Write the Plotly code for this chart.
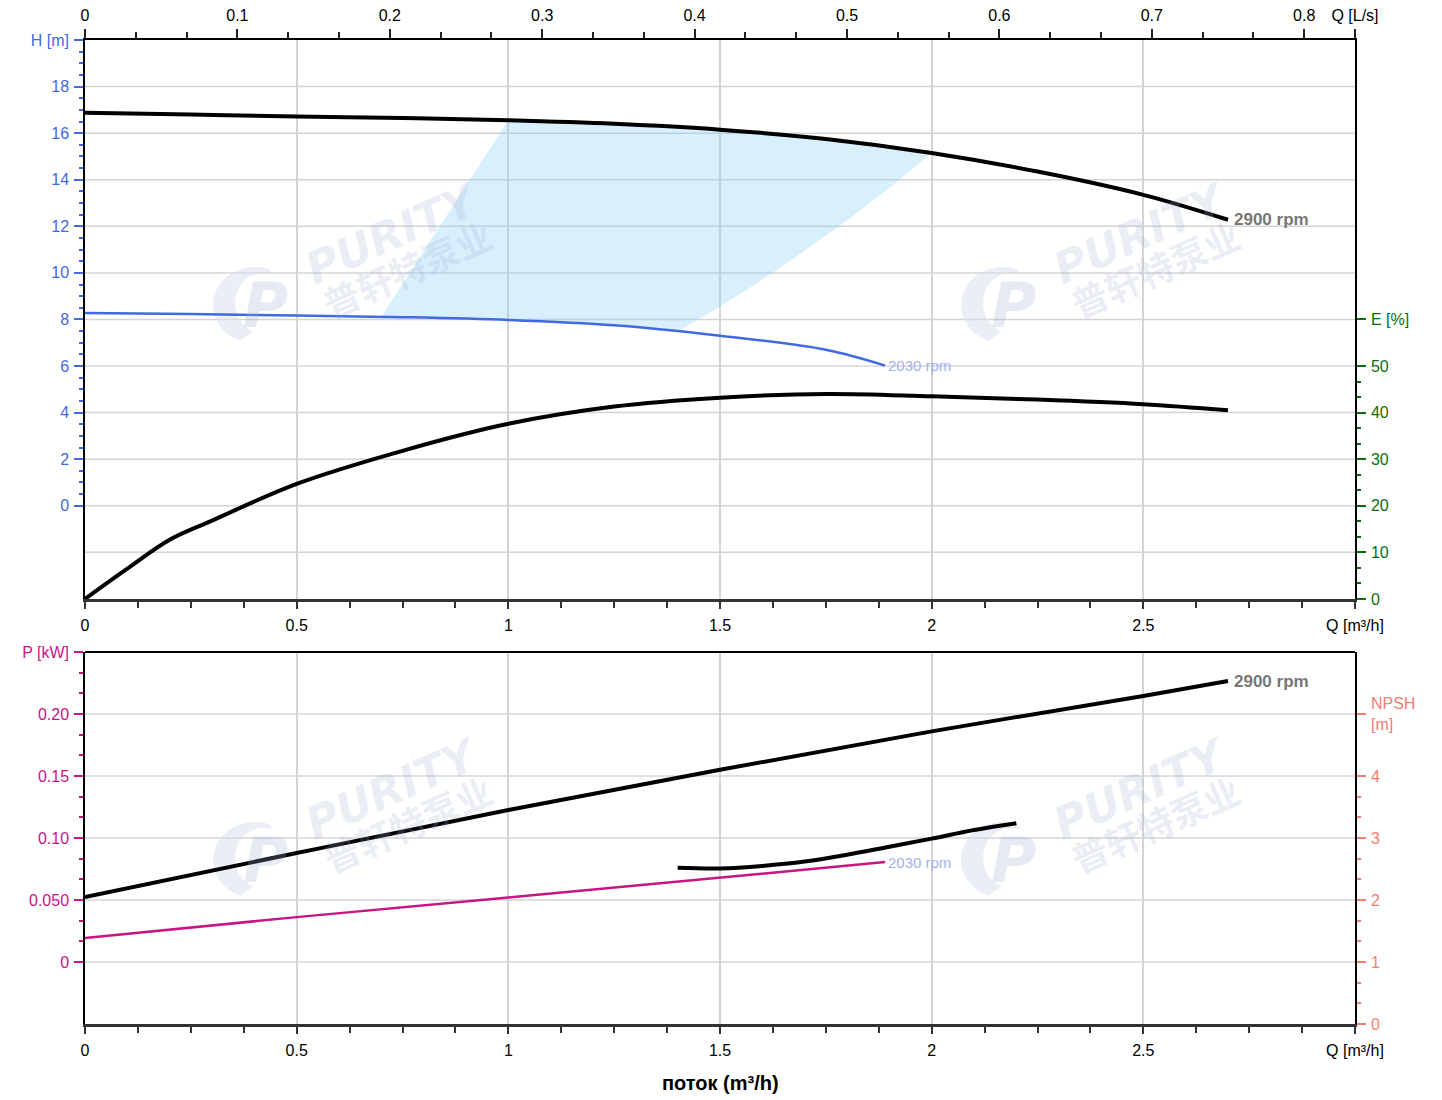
import numpy as np
import plotly.graph_objects as go

# --- data ---
q_h2900 = [0, 0.25, 0.5, 0.75, 1.0, 1.25, 1.5, 1.75, 2.0, 2.25, 2.5, 2.7]
h_2900 = [16.88, 16.8, 16.72, 16.65, 16.55, 16.4, 16.15, 15.75, 15.15, 14.35, 13.35, 12.28]

q_h2030 = [0, 0.25, 0.5, 0.75, 1.0, 1.25, 1.5, 1.75, 1.89]
h_2030 = [8.28, 8.23, 8.17, 8.1, 7.98, 7.75, 7.3, 6.7, 6.02]

q_eff = [0, 0.1, 0.2, 0.3, 0.5, 0.75, 1.0, 1.25, 1.5, 1.75, 2.0, 2.25, 2.5, 2.7]
eff_2900 = [0, 6.5, 12.7, 16.8, 24.7, 31.8, 37.6, 41.3, 43.2, 44.0, 43.5, 42.8, 41.8, 40.5]

# operating region (outline)
region_q = [0.7, 1.0, 1.25, 1.5, 1.75, 2.0, 1.9, 1.8, 1.7, 1.6, 1.5, 1.4, 1.25, 1.0, 0.85, 0.7]
region_h = [8.12, 16.55, 16.4, 16.15, 15.75, 15.15, 13.65, 12.25, 10.95, 9.7, 8.55, 7.48, 7.75, 7.98, 8.05, 8.12]

q_p2900 = [0, 0.5, 1.0, 1.5, 2.0, 2.5, 2.7]
p_2900 = [0.0524, 0.0879, 0.1226, 0.155, 0.186, 0.2145, 0.2266]

q_p2030 = [0, 0.5, 1.0, 1.5, 1.89]
p_2030 = [0.0194, 0.0362, 0.052, 0.068, 0.0806]

q_npsh = [1.4, 1.5, 1.6, 1.7, 1.8, 1.9, 2.0, 2.1, 2.2]
npsh = [2.52, 2.51, 2.55, 2.62, 2.73, 2.86, 2.99, 3.13, 3.24]

x_ticks = [0, 0.5, 1, 1.5, 2, 2.5, 3]
x_labels = ["0", "0.5", "1", "1.5", "2", "2.5", "Q [m³/h]"]
ls_ticks = [0, 0.1, 0.2, 0.3, 0.4, 0.5, 0.6, 0.7, 0.8, 3 / 3.6]
ls_labels = ["0", "0.1", "0.2", "0.3", "0.4", "0.5", "0.6", "0.7", "0.8", "Q [L/s]"]
h_ticks = list(range(0, 21, 2))
h_labels = [str(v) for v in range(0, 19, 2)] + ["H [m]"]
e_ticks = list(range(0, 61, 10))
e_labels = [str(v) for v in range(0, 51, 10)] + ["E [%]"]
p_ticks = [0, 0.05, 0.10, 0.15, 0.20, 0.25]
p_labels = ["0", "0.050", "0.10", "0.15", "0.20", "P [kW]"]
n_ticks = [0, 1, 2, 3, 4, 5]
n_labels = ["0", "1", "2", "3", "4", "NPSH<br>[m]"]

BLUE = "#4169e1"
GREEN = "#0b6e0b"
MAGENTA = "#c71585"
SALMON = "#f47c72"
GRID = "#d4d4d4"
FONT = "Liberation Sans, Arial, sans-serif"
FS = 16

fig = go.Figure()

fig.add_trace(go.Scatter(x=region_q, y=region_h, fill="toself", mode="none",
                         fillcolor="rgba(135,206,250,0.32)",
                         xaxis="x", yaxis="y", hoverinfo="skip"))
fig.add_trace(go.Scatter(x=q_h2030, y=h_2030, mode="lines", line=dict(color=BLUE, width=2.5, shape="spline"),
                         xaxis="x", yaxis="y"))
fig.add_trace(go.Scatter(x=q_h2900, y=h_2900, mode="lines", line=dict(color="black", width=4, shape="spline"),
                         xaxis="x", yaxis="y"))
fig.add_trace(go.Scatter(x=q_eff, y=eff_2900, mode="lines", line=dict(color="black", width=4, shape="spline"),
                         xaxis="x", yaxis="y2"))
# carrier so the L/s axis is drawn
fig.add_trace(go.Scatter(x=[ls_ticks[0]], y=[None], mode="markers", marker=dict(opacity=0),
                         xaxis="x2", yaxis="y", hoverinfo="skip"))
# bottom panel
fig.add_trace(go.Scatter(x=q_p2030, y=p_2030, mode="lines", line=dict(color=MAGENTA, width=2.5),
                         xaxis="x3", yaxis="y3"))
fig.add_trace(go.Scatter(x=q_p2900, y=p_2900, mode="lines", line=dict(color="black", width=4, shape="spline"),
                         xaxis="x3", yaxis="y3"))
fig.add_trace(go.Scatter(x=q_npsh, y=npsh, mode="lines", line=dict(color="black", width=4, shape="spline"),
                         xaxis="x3", yaxis="y4"))

top_dom = [0.432, 1.0]
bot_dom = [0.0, 0.378]

xcommon = dict(range=[0, 3], tickmode="array", tickvals=x_ticks, ticktext=x_labels,
               showgrid=True, gridcolor=GRID, gridwidth=1.5, zeroline=False, automargin=False,
               showline=True, linecolor="#333", linewidth=2.5, tickangle=0, ticklabelstandoff=3,
               ticks="outside", ticklen=7, tickcolor="#333", tickwidth=1.5,
               minor=dict(dtick=0.125, ticks="outside", ticklen=6, tickcolor="#333", showgrid=False),
               tickfont=dict(size=FS, color="black", family=FONT))

fig.update_layout(
    width=1434, height=1092,
    margin=dict(l=77, r=87, t=32, b=76, autoexpand=False),
    paper_bgcolor="white", plot_bgcolor="white",
    showlegend=False,
    font=dict(family=FONT, size=FS, color="black"),
    xaxis=dict(xcommon, anchor="y", domain=[0, 1]),
    xaxis2=dict(range=[0, 3 / 3.6], overlaying="x", side="top", anchor="y",
                tickmode="array", tickvals=ls_ticks, ticktext=ls_labels, tickangle=0, automargin=False,
                showgrid=False, zeroline=False, showline=True, linecolor="black", linewidth=2,
                ticks="outside", ticklen=9, tickcolor="#222", tickwidth=1.5, ticklabelstandoff=2,
                minor=dict(tickmode="array", tickvals=list(np.arange(0, 0.82, 1 / 30)),
                           ticks="outside", ticklen=6, tickcolor="#222", showgrid=False),
                tickfont=dict(size=FS, color="black", family=FONT)),
    yaxis=dict(domain=top_dom, range=[-4, 20], anchor="x", automargin=False,
               tickmode="array", tickvals=h_ticks, ticktext=h_labels, ticklabelstandoff=2,
               showgrid=False, zeroline=False, showline=True, linecolor="black", linewidth=1.5,
               ticks="outside", ticklen=9, tickcolor=BLUE, tickwidth=1.5,
               minor=dict(tickmode="array", tickvals=list(np.arange(0, 20.1, 0.5)),
                          ticks="outside", ticklen=4, tickcolor=BLUE, showgrid=False),
               tickfont=dict(size=FS, color=BLUE, family=FONT)),
    yaxis2=dict(range=[0, 120], overlaying="y", side="right", anchor="x", automargin=False,
                tickmode="array", tickvals=e_ticks, ticktext=e_labels, ticklabelstandoff=2,
                showgrid=False, zeroline=False, showline=True, linecolor="black", linewidth=1.5,
                ticks="outside", ticklen=9, tickcolor=GREEN, tickwidth=1.5,
                minor=dict(tickmode="array", tickvals=list(np.arange(0, 50.1, 10 / 3)),
                           ticks="outside", ticklen=4, tickcolor=GREEN, showgrid=False),
                tickfont=dict(size=FS, color=GREEN, family=FONT)),
    xaxis3=dict(xcommon, anchor="y3", domain=[0, 1]),
    yaxis3=dict(domain=bot_dom, range=[-0.05, 0.25], anchor="x3", automargin=False,
                tickmode="array", tickvals=p_ticks, ticktext=p_labels, ticklabelstandoff=2,
                showgrid=False, zeroline=False, showline=True, linecolor="black", linewidth=1.5,
                ticks="outside", ticklen=9, tickcolor=MAGENTA, tickwidth=1.5,
                minor=dict(tickmode="array", tickvals=list(np.arange(0, 0.251, 0.05 / 3)),
                           ticks="outside", ticklen=4, tickcolor=MAGENTA, showgrid=False),
                tickfont=dict(size=FS, color=MAGENTA, family=FONT)),
    yaxis4=dict(range=[0, 6], overlaying="y3", side="right", anchor="x3", automargin=False,
                tickmode="array", tickvals=n_ticks, ticktext=n_labels, ticklabelstandoff=2,
                showgrid=False, zeroline=False, showline=True, linecolor="black", linewidth=1.5,
                ticks="outside", ticklen=9, tickcolor=SALMON, tickwidth=1.5,
                minor=dict(tickmode="array", tickvals=list(np.arange(0, 4.01, 1 / 3)),
                           ticks="outside", ticklen=4, tickcolor=SALMON, showgrid=False),
                tickfont=dict(size=FS, color=SALMON, family=FONT)),
)

# top border of the lower panel
fig.add_shape(type="line", xref="x3 domain", yref="y3 domain", x0=0, x1=1, y0=1, y1=1,
              line=dict(color="black", width=2))

# horizontal grid lines
for v in range(-2, 20, 2):
    fig.add_shape(type="line", xref="x domain", yref="y", x0=0, x1=1, y0=v, y1=v,
                  line=dict(color=GRID, width=1.5), layer="below")
for v in [0, 0.05, 0.10, 0.15, 0.20]:
    fig.add_shape(type="line", xref="x3 domain", yref="y3", x0=0, x1=1, y0=v, y1=v,
                  line=dict(color=GRID, width=1.5), layer="below")


def px2paper(px, py):
    return (px - 85) / 1270, (1024 - py) / 984


def crescent_path(cx, cy):
    # watermark swoosh, built in page pixels then mapped to paper coords
    a1 = np.linspace(np.radians(70), np.radians(250), 30)
    a2 = a1[::-1]
    pts = [(cx + 42 * np.cos(a), cy - 38 * np.sin(a)) for a in a1]
    pts += [(cx + 8 + 28 * np.cos(a), cy - 2 - 30 * np.sin(a)) for a in a2]
    pp = [px2paper(x, y) for x, y in pts]
    return "M " + " L ".join(f"{x:.4f},{y:.4f}" for x, y in pp) + " Z"


W_TXT = "rgba(160,175,205,0.22)"
W_LOGO = "rgba(215,222,234,0.5)"
W_P = "rgba(160,175,205,0.26)"
for (px, py) in [(255, 305), (1003, 305), (255, 860), (1003, 860)]:
    fig.add_shape(type="path", xref="paper", yref="paper", path=crescent_path(px, py),
                  fillcolor=W_LOGO, line=dict(width=0), layer="below")
    lx, ly = px2paper(px + 10, py)
    fig.add_annotation(xref="paper", yref="paper", x=lx, y=ly, xanchor="center", yanchor="middle",
                       text="<b><i>P</i></b>", showarrow=False,
                       font=dict(size=62, color=W_P, family="DejaVu Sans, sans-serif"))
    tx, ty = px2paper(px + 137, py - 72)
    fig.add_annotation(xref="paper", yref="paper", x=tx, y=ty, xanchor="center", yanchor="middle",
                       text="<b><i>PURITY</i></b>", showarrow=False, textangle=-24,
                       font=dict(size=44, color=W_TXT, family="DejaVu Sans, sans-serif"))
    cx2, cy2 = px2paper(px + 152, py - 37)
    fig.add_annotation(xref="paper", yref="paper", x=cx2, y=cy2, xanchor="center", yanchor="middle",
                       text="<b>普轩特泵业</b>", showarrow=False, textangle=-24,
                       font=dict(size=36, color=W_TXT, family="Noto Sans CJK SC"))

# speed labels
fig.add_annotation(x=q_h2900[-1], y=h_2900[-1], xref="x", yref="y", text="<b>2900 rpm</b>",
                   showarrow=False, xanchor="left", xshift=4,
                   font=dict(size=17, color="#777777", family=FONT))
fig.add_annotation(x=q_h2030[-1], y=h_2030[-1], xref="x", yref="y", text="2030 rpm",
                   showarrow=False, xanchor="left", xshift=1,
                   font=dict(size=15, color="#a3b1f2", family=FONT))
fig.add_annotation(x=q_p2900[-1], y=p_2900[-1], xref="x3", yref="y3", text="<b>2900 rpm</b>",
                   showarrow=False, xanchor="left", xshift=4,
                   font=dict(size=17, color="#777777", family=FONT))
fig.add_annotation(x=q_p2030[-1], y=p_2030[-1], xref="x3", yref="y3", text="2030 rpm",
                   showarrow=False, xanchor="left", xshift=1,
                   font=dict(size=15, color="#a3b1f2", family=FONT))

fig.add_annotation(xref="paper", yref="paper", x=0.5, y=-0.06, xanchor="center", yanchor="middle",
                   text="<b>поток (m³/h)</b>", showarrow=False,
                   font=dict(size=20, color="black", family=FONT))

fig.write_html("out.html")
